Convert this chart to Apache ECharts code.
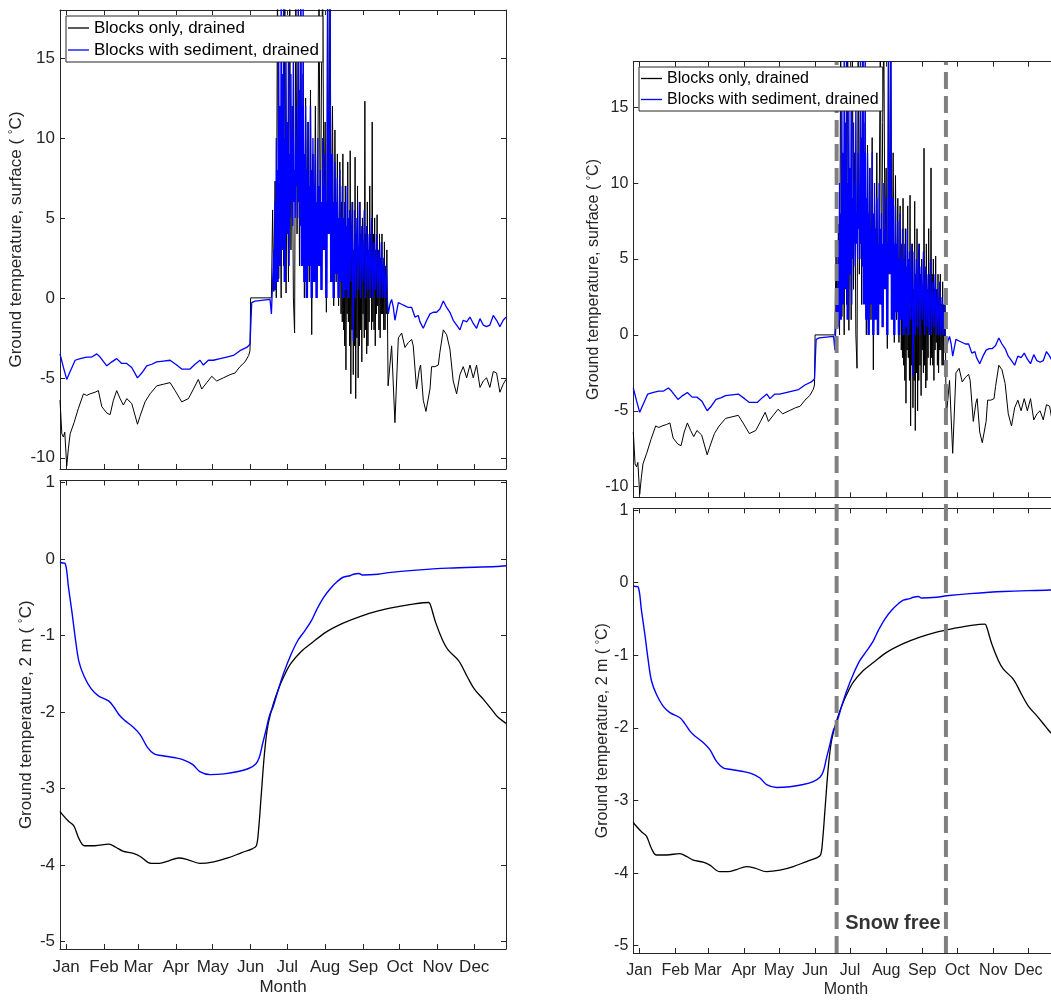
<!DOCTYPE html>
<html>
<head>
<meta charset="utf-8">
<script src="https://cdn.jsdelivr.net/npm/echarts@6/dist/echarts.min.js"></script>
<style>
    html, body { margin: 0; padding: 0; background: #fff; overflow: hidden; }
    /* wider than the window: the right hand axes run past the edge, as in the figure */
    #chart { width: 1070px; height: 1000px; }
</style>
</head>
<body>
<div id="chart"></div>
<script>
let chart = echarts.init(document.getElementById('chart'));

// axis ticks
let month_starts = [0, 31, 59, 90, 120, 151, 181, 212, 243, 273, 304, 334];
let month_names = ['Jan', 'Feb', 'Mar', 'Apr', 'May', 'Jun', 'Jul', 'Aug', 'Sep', 'Oct', 'Nov', 'Dec'];
let surface_ticks = [-10, -5, 0, 5, 10, 15];
let depth_ticks = [-5, -4, -3, -2, -1, 0, 1];
let series_names = ['Blocks only, drained', 'Blocks with sediment, drained'];

// snow free period (day of year) and its label anchor [day, temp]
let snow_free_days = [169.5, 263.3];
let snow_free_label = [176.4, -4.7];

// surface temperature, [day of year, degC]
let surface_blocks = [
    [-5, -6.4], [-3.5, -8.5], [-2.2, -8.7], [-1.1, -8.4], [0.5, -10.5], [1.9, -9.4], [3.3, -8.5], [6.5, -7.8],
    [10.1, -6.9], [14.2, -6.0], [16.9, -6.1], [19.6, -6.0], [23.7, -5.9], [26.4, -5.8], [29.2, -6.8], [33.3, -7.2],
    [36, -7.3], [38.7, -6.4], [41.4, -5.8], [44.2, -6.3], [46.9, -6.7], [49.6, -6.3], [53.7, -6.6], [58.4, -7.9],
    [60.5, -7.4], [64.6, -6.5], [68.7, -6.0], [74.2, -5.5], [79.6, -5.4], [85.1, -5.3], [89.2, -5.8], [94.6, -6.5],
    [100.1, -6.3], [104.2, -5.7], [108.2, -5.1], [111, -5.7], [115.1, -5.3], [119.2, -4.9], [123.2, -5.2],
    [128.7, -5.0], [134.2, -4.8], [138.2, -4.7], [142.3, -4.3], [146.4, -4.0], [149.4, -3.6], [150.5, -3.3], [151, 0],
    [168, 0], [169, 5.5], [170, 0.4], [171, 7.3], [172, 0], [173, 20], [174, 1.2], [175, 8.5], [176, 0], [177, 13.5],
    [178, 2], [179, 20], [180, 0.3], [181, 10], [182, 1], [183, 20], [184, 3], [185, 12], [186, 0], [187, -2.2],
    [188, 20], [189, 4], [190, 16], [191, 2], [192, 20], [193, 5], [194, 14], [195, 0], [196, 12.5], [197, 4],
    [198, 11], [199, 1], [200, 13], [201, -2.3], [202, 9], [203, 3], [204, 12], [205, 0.5], [206, 8], [207, 20],
    [208, 2], [209, 14], [210, 20], [211, 5], [212, 11], [213, -0.9], [214, 20], [215, 6], [216, 20], [217, 3],
    [218, 12], [219, -0.5], [220, 10.5], [221, 1], [222, 9], [223, -0.5], [224, 8.5],
    [225, -1], [225.5, 6], [226, -1.5], [226.5, 9], [227, -2], [227.5, 5], [228, -3], [228.5, 7], [229, -4.5],
    [229.5, 4], [230, -1], [230.5, 8.5], [231, -1.5], [231.5, 5], [232, -3], [232.5, 9.2], [233, -6], [233.5, 4],
    [234, -2], [234.5, 6], [235, -4.8], [235.5, 3], [236, -3], [236.5, 8.8], [237, -6.3], [237.5, 4], [238, -2.5],
    [238.5, 7], [239, -5], [239.5, 3], [240, -3], [240.5, 6], [241, -2], [241.5, 4], [242, -4], [242.5, 5], [243, -1],
    [243.5, 3], [244, -2.5], [244.5, 12.3], [245, -2], [245.5, 4], [246, -3.5], [246.5, 6], [247, -3], [247.5, 3],
    [248, -1.5], [248.5, 7], [249, 0], [249.5, 4], [250, -2], [250.5, 11], [251, -1.5], [251.5, 4], [252, -2],
    [252.5, 5], [253, -3], [253.5, 3], [254, -1], [254.5, 5.2], [255, -0.5], [255.5, 3], [256, -2], [256.5, 4],
    [257, -2.5], [257.5, 2.5], [258, -1], [258.5, 4], [259, -1], [259.5, 2], [260, -2], [260.5, 3.5], [261, -2],
    [261.5, 2], [262, -1], [262.5, 3], [263.5, -5.5],
    [266.4, -3.0], [269.1, -7.8], [271.9, -2.5], [274.6, -2.2], [277.3, -3.1], [280, -2.8], [282.8, -2.6],
    [284.1, -3.0], [286.8, -5.7], [289, -4.5], [290.1, -4.2], [292.3, -6.4], [294.5, -7.1], [297.8, -5.7],
    [299.1, -4.3], [301.8, -4.3], [304.6, -4.2], [305.9, -3.4], [308.7, -2.0], [311.4, -2.3], [314.1, -3.2],
    [316.8, -5.2], [319.6, -6.0], [322.3, -4.8], [325, -4.3], [327.8, -5.0], [330.5, -4.2], [333.2, -5.0],
    [335.9, -4.2], [338.7, -5.6], [341.4, -5.2], [344.1, -5.0], [346.8, -5.6], [349.6, -4.6], [352.3, -4.7],
    [355, -5.9], [357.7, -5.4], [360, -5.1]
];

let surface_sediment = [
    [-5, -3.5], [-2.2, -4.35], [0.5, -5.1], [3.3, -4.6], [7.4, -3.9], [11.5, -3.8], [16.9, -3.7], [21, -3.7],
    [25.1, -3.5], [27.8, -3.7], [33.3, -4.25], [37.4, -4.0], [41.4, -3.8], [45.5, -4.1], [49.6, -4.1], [53.7, -4.35],
    [58.4, -5.0], [61.9, -4.7], [66, -4.25], [70.1, -4.15], [74.2, -4.0], [79.6, -3.95], [85.1, -3.9], [90.5, -4.2],
    [94.6, -4.45], [101.4, -4.45], [105.5, -4.15], [109.6, -3.9], [112.3, -4.2], [116.4, -3.9], [120.5, -3.9],
    [126, -3.8], [131.4, -3.7], [136.9, -3.6], [142.3, -3.3], [147.8, -3.1], [150.5, -2.9], [151.9, -0.3],
    [154.6, -0.2], [166.9, -0.1],
    [168, -1.0], [168.5, 0], [169, 0], [169.5, 2], [170, 3], [170.5, 0.5], [171, 6], [171.5, 0.5], [172, 10],
    [172.5, 1], [173, 8], [173.5, 1], [174, 16], [174.5, 2], [175, 12], [175.5, 2], [176, 20], [176.5, 3], [177, 14],
    [177.5, 3], [178, 20], [178.5, 1], [179, 10], [179.5, 1], [180, 15], [180.5, 4], [181, 11], [181.5, 4], [182, 17],
    [182.5, 2], [183, 9], [183.5, 5], [184, 14], [184.5, 6], [185, 10], [185.5, 4.5], [186, 16], [186.5, 6], [187, 8],
    [187.5, 5], [188, 12], [188.5, 7], [189, 9], [189.5, 5], [190, 20], [190.5, 6], [191, 13], [191.5, 4.5], [192, 20],
    [192.5, 2], [193, 12], [193.5, 2], [194, 20], [194.5, 1], [195, 9], [195.5, 1], [196, 12], [196.5, 0], [197, 8],
    [197.5, 0], [198, 11], [198.5, 2], [199, 7], [199.5, 2], [200, 12], [200.5, 0], [201, 8], [201.5, 0], [202, 10],
    [202.5, 1], [203, 7], [203.5, 1], [204, 9], [204.5, 0], [205, 6], [205.5, 0], [206, 10], [206.5, 2], [207, 7],
    [207.5, 2], [208, 8], [208.5, 0.5], [209, 6], [209.5, 0.5], [210, 10], [210.5, 3], [211, 7], [211.5, 3], [212, 9],
    [212.5, 0], [213, 6], [213.5, 0], [214, 20], [214.5, 4], [215, 12], [215.5, 4], [216, 20], [216.5, 1], [217, 9],
    [217.5, 1], [218, 9], [218.5, 0], [219, 6], [219.5, 0], [220, 8.5], [220.5, 1.5], [221, 6], [221.5, 1.5],
    [222, 7.5], [222.5, 0], [223, 5], [223.5, 0], [224, 8], [224.5, 1], [225, 5], [225.5, 1], [226, 7], [226.5, 0],
    [227, 5], [227.5, 0], [228, 6], [228.5, 0.5], [229, 4.5], [229.5, 0.5], [230, 7], [230.5, 0], [231, 5],
    [231.5, 0], [232, 5.5],
    [233, 1], [234, 6], [235, -2.7], [236, 5.5], [237, 0], [238, 5],
    [239, 0.5], [240, 6], [241, 0], [242, 4.5], [243, 1], [244, 5.5], [245, 0], [246, 4.5], [247, 0.5], [248, 4],
    [249, 0], [250, 5], [251, 0], [252, 3.5], [253, 0.5], [254, 4], [255, 0], [256, 3], [257, 0], [258, 3.5],
    [259, 0], [260, 2.5], [261, 0], [262, 2], [263, -0.3],
    [263.7, -1.0], [265, -0.4], [266.4, -0.1], [267.8, -0.6], [269.1, -1.4], [271.9, -0.3], [274.6, -0.4],
    [277.3, -0.5], [280, -0.6], [282.8, -0.6], [285.5, -1.2], [288.2, -1.1], [289.6, -1.5], [292.3, -1.9],
    [295.1, -1.4], [297.8, -1.0], [300.5, -0.9], [303.2, -0.9], [305.9, -0.7], [308.7, -0.2], [311.4, -0.6],
    [314.1, -0.9], [316.8, -1.4], [319.6, -1.7], [322.3, -2.0], [325, -1.4], [327.8, -1.5], [330.5, -1.2],
    [333.2, -1.6], [335.9, -1.9], [338.7, -1.3], [341.4, -1.7], [344.1, -1.8], [346.8, -1.7], [349.6, -1.1],
    [352.3, -1.4], [355, -1.8], [357.7, -1.4], [360, -1.2]
];

// temperature at 2 m depth, [day of year, degC]
let depth_blocks = [
    [-5, -3.30], [-3.7, -3.33], [2, -3.43], [6.3, -3.49], [10.6, -3.66], [14.9, -3.75], [23.5, -3.75], [35, -3.73],
    [40.7, -3.77], [46.4, -3.82], [55, -3.85], [60.7, -3.89], [69.3, -3.98], [76.4, -3.98], [83.6, -3.95],
    [92.2, -3.91], [99.3, -3.93], [109.4, -3.98], [120.8, -3.96], [132.3, -3.91], [143.7, -3.84], [152.3, -3.79],
    [155.7, -3.75], [157.4, -3.56], [159.4, -3.15], [162.3, -2.55], [165.1, -2.18], [169.5, -1.90], [173.8, -1.70],
    [178.1, -1.54], [183.8, -1.37], [192.4, -1.21], [201, -1.10], [212.4, -0.96], [226.7, -0.84], [241, -0.75],
    [255.3, -0.68], [269.6, -0.63], [284, -0.59], [296.8, -0.57], [298.3, -0.61], [302.6, -0.84], [308.3, -1.07],
    [312.6, -1.19], [321.2, -1.33], [328.3, -1.54], [334, -1.70], [341.2, -1.83], [349.8, -2.00], [353.5, -2.07],
    [360, -2.15]
];

let depth_sediment = [
    [-5, -0.04], [-3.7, -0.05], [-0.8, -0.06], [2, -0.38], [4.9, -0.71], [7.8, -1.07], [10.6, -1.35], [14.9, -1.54],
    [20.6, -1.70], [26.4, -1.79], [35, -1.86], [39.2, -1.94], [43.5, -2.04], [47.8, -2.11], [55, -2.20],
    [60.7, -2.30], [66.4, -2.46], [72.1, -2.55], [77.9, -2.57], [89.3, -2.60], [96.5, -2.63], [103.7, -2.69],
    [109.4, -2.78], [118, -2.82], [129.4, -2.81], [140.9, -2.78], [149.4, -2.74], [155.2, -2.68], [158, -2.60],
    [160.9, -2.41], [163.7, -2.23], [166.6, -2.04], [169.5, -1.93], [173.8, -1.70], [178.1, -1.49], [183.8, -1.26],
    [189.5, -1.07], [195.3, -0.94], [201, -0.80], [205.2, -0.66], [210.9, -0.50], [216.7, -0.38], [222.4, -0.29],
    [226.7, -0.24], [232.4, -0.22], [235.3, -0.20], [239.6, -0.19], [242.4, -0.21], [255.3, -0.20], [263.9, -0.18],
    [284, -0.15], [312.6, -0.12], [352.6, -0.10], [360, -0.09]
];

let font_family = '"Liberation Sans", Arial, sans-serif';
let axis_color = '#262626';
let x_min = -5;
let x_max = 360;

// two copies of the figure: plain on the left, annotated on the right
let panels = [
    {left: 60, width: 446, top1: 10, h1: 459, top2: 480.5, h2: 468.5, font: 17,
        legendLeft: 66, legendTop: 16, lineHeight: 20, gap1: 35, gap2: 25, monthGap: 30, snow: false},
    {left: 633.3, width: 425.3, top1: 61.7, h1: 435.6, top2: 508.3, h2: 444.7, font: 16,
        legendLeft: 639, legendTop: 67, lineHeight: 19, gap1: 32, gap2: 23, monthGap: 29, snow: true}
];

let option = {
    animation: false,
    backgroundColor: '#fff',
    grid: [],
    xAxis: [],
    yAxis: [],
    legend: [],
    series: []
};

let tick_style = {show: true, inside: true, length: 5, lineStyle: {color: axis_color, width: 1}};

function y_name(text, font) {
    return {
        name: text + ' ( {deg|°}C)',
        nameTextStyle: {
            fontSize: font, fontFamily: font_family, color: axis_color,
            rich: {deg: {fontSize: Math.round(font * 0.7), fontFamily: font_family, color: axis_color, verticalAlign: 'top'}}
        }
    };
}

function add_plot(p, top, height, yMin, yMax, yTicks, isDepth) {
    let gi = option.grid.length;
    option.grid.push({left: p.left, top: top, width: p.width, height: height});

    let xi = option.xAxis.length;
    option.xAxis.push({
        type: 'value', gridIndex: gi, min: x_min, max: x_max, position: 'bottom',
        axisLine: {show: true, onZero: false, lineStyle: {color: axis_color, width: 1}},
        axisTick: Object.assign({customValues: month_starts}, tick_style),
        axisLabel: {
            show: isDepth, customValues: month_starts, margin: 10,
            fontSize: p.font, fontFamily: font_family, color: axis_color,
            formatter: v => month_names[month_starts.indexOf(v)]
        },
        splitLine: {show: false},
        name: isDepth ? 'Month' : '', nameLocation: 'middle', nameGap: p.monthGap,
        nameTextStyle: {fontSize: p.font, fontFamily: font_family, color: axis_color}
    });
    option.xAxis.push({
        type: 'value', gridIndex: gi, min: x_min, max: x_max, position: 'top',
        axisLine: {show: true, onZero: false, lineStyle: {color: axis_color, width: 1}},
        axisTick: Object.assign({customValues: month_starts}, tick_style),
        axisLabel: {show: false, customValues: month_starts},
        splitLine: {show: false}
    });

    let yi = option.yAxis.length;
    option.yAxis.push(Object.assign({
        type: 'value', gridIndex: gi, min: yMin, max: yMax, position: 'left',
        axisLine: {show: true, onZero: false, lineStyle: {color: axis_color, width: 1}},
        axisTick: Object.assign({customValues: yTicks}, tick_style),
        axisLabel: {customValues: yTicks, margin: 5, fontSize: p.font, fontFamily: font_family, color: axis_color},
        splitLine: {show: false},
        nameLocation: 'middle', nameRotate: 90, nameGap: isDepth ? p.gap2 : p.gap1
    }, y_name(isDepth ? 'Ground temperature, 2 m' : 'Ground temperature, surface', p.font)));
    option.yAxis.push({
        type: 'value', gridIndex: gi, min: yMin, max: yMax, position: 'right',
        axisLine: {show: true, onZero: false, lineStyle: {color: axis_color, width: 1}},
        axisTick: Object.assign({customValues: yTicks}, tick_style),
        axisLabel: {show: false, customValues: yTicks},
        splitLine: {show: false}
    });

    let blocks = isDepth ? depth_blocks : surface_blocks;
    let sediment = isDepth ? depth_sediment : surface_sediment;
    option.series.push({
        name: series_names[0], type: 'line', xAxisIndex: xi, yAxisIndex: yi,
        data: blocks, symbol: 'none', clip: true, z: 2,
        smooth: isDepth ? 0.35 : false,
        lineStyle: {color: '#000000', width: isDepth ? 1.3 : 1}, itemStyle: {color: '#000000'}
    });
    option.series.push({
        name: series_names[1], type: 'line', xAxisIndex: xi, yAxisIndex: yi,
        data: sediment, symbol: 'none', clip: true, z: 2,
        smooth: isDepth ? 0.35 : false,
        lineStyle: {color: '#0000ff', width: isDepth ? 1.4 : 1.3}, itemStyle: {color: '#0000ff'}
    });
    return {xi: xi, yi: yi};
}

panels.forEach(p => {
    add_plot(p, p.top1, p.h1, -10.7, 18, surface_ticks, false);
    let lower = add_plot(p, p.top2, p.h2, -5.1, 1.025, depth_ticks, true);

    option.legend.push({
        data: series_names, orient: 'vertical', left: p.legendLeft, top: p.legendTop, z: 10,
        icon: 'rect', itemWidth: 21, itemHeight: 1.3,
        backgroundColor: '#ffffff', borderColor: axis_color, borderWidth: 1, borderRadius: 0,
        padding: [2, 4, 2, 2], itemGap: 2,
        textStyle: {fontSize: p.font, lineHeight: p.lineHeight, fontFamily: font_family, color: '#000'}
    });

    if (p.snow) {
        // one hidden grid spanning both plots, for the snow free markers
        let gi = option.grid.length;
        option.grid.push({left: p.left, top: p.top1, width: p.width, height: p.top2 + p.h2 - p.top1});
        let xi = option.xAxis.length;
        option.xAxis.push({type: 'value', gridIndex: gi, min: x_min, max: x_max, show: false});
        let yi = option.yAxis.length;
        option.yAxis.push({type: 'value', gridIndex: gi, min: 0, max: 1, show: false});
        snow_free_days.forEach(d => {
            option.series.push({
                type: 'line', xAxisIndex: xi, yAxisIndex: yi, symbol: 'none', z: 3, silent: true,
                data: [[d, 0], [d, 1]],
                lineStyle: {color: '#808080', width: 4, type: [17, 7]}
            });
        });
        option.series.push({
            type: 'scatter', xAxisIndex: lower.xi, yAxisIndex: lower.yi, z: 4, silent: true,
            data: [snow_free_label], symbolSize: 1, itemStyle: {color: 'rgba(0,0,0,0)'},
            label: {
                show: true, position: 'right', distance: 0, formatter: 'Snow free',
                fontSize: 20, fontWeight: 'bold', fontFamily: font_family, color: '#000'
            }
        });
    }
});

chart.setOption(option);
</script>
</body>
</html>
